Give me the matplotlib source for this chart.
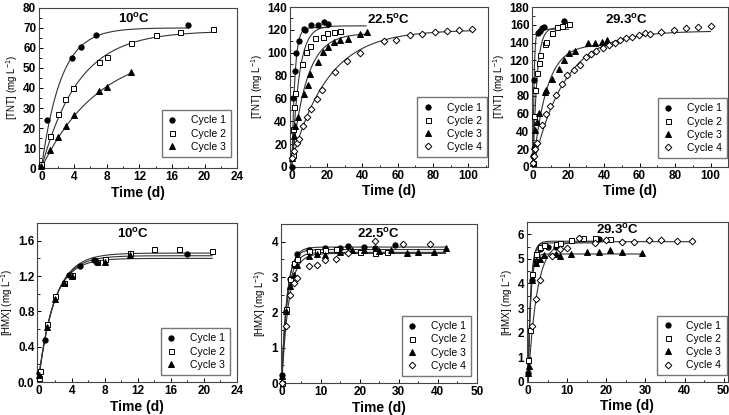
import numpy as np
import matplotlib.pyplot as plt
from matplotlib.ticker import MultipleLocator, FormatStrFormatter

plt.rcParams['font.family'] = ['Liberation Sans', 'DejaVu Sans']
plt.rcParams['mathtext.default'] = 'regular'

# ---- TNT, 10 C ----
tnt10_t = [[0, 0.7, 3.7, 4.9, 6.7, 17.9],
           [0, 1, 2, 2.9, 3.9, 7, 8, 11, 14, 17, 21],
           [0, 1, 2, 3, 4, 7, 8, 11]]
tnt10_c = [[1, 24, 55, 60.5, 66.5, 71.5],
           [2, 16, 27, 34.5, 40, 53, 55.5, 62.5, 66.5, 68, 69.5],
           [1, 9, 15.5, 21, 26.5, 38.5, 40.5, 48]]
# fitted curves: plateau, rate (1/d), start value, last day
tnt10_fit = [[70, 0.42, 0, 18], [68.5, 0.22, 0, 21], [60, 0.142, 0, 11]]

# ---- TNT, 22.5 C ----
tnt22_t = [[0, 0.4, 0.8, 1.9, 2.6, 4, 6.6, 7.5, 11, 15, 18, 20.6],
           [0.4, 0.8, 1.3, 2, 5.5, 8, 10, 13, 17.4, 20, 24, 27.4],
           [0, 1, 1.7, 3.6, 7, 8.9, 10.5, 15, 17.5, 20.6, 24, 27, 32, 38.5, 42.8],
           [0, 1, 3, 4, 6.4, 8.5, 10.8, 14, 17, 24.3, 31, 38.5, 52, 59, 67, 74, 81, 88, 95, 102]]
tnt22_c = [[0, 9, 60, 84, 100, 110, 121, 120, 124, 124, 127, 125.5],
           [10, 33, 52, 65, 90, 101, 106, 113, 114, 117, 118, 119],
           [8, 27, 36, 44, 64, 72, 81, 92, 101, 105, 109, 111, 112, 116, 118],
           [8, 14, 21, 24, 36, 44, 51, 59.5, 67, 83, 92.4, 100, 110, 111, 115.5, 116.6, 117.8, 118.7, 120, 121]]
tnt22_fit = [[122, 0.6, 0, 21], [123.5, 0.25, 0, 42], [117, 0.12, 5, 42], [120, 0.049, 5, 102]]

# ---- TNT, 29.3 C ----
tnt29_t = [[0, 0.6, 2.8, 3.75, 5, 6.2, 17.4],
           [0, 0.6, 1.1, 2.25, 3.4, 3.75, 6.6, 7.5, 10.9, 13.5, 16.3, 20],
           [0, 0.6, 1.3, 2.25, 3.4, 6.6, 7.5, 10.7, 14.4, 17.3, 20.3, 23.5, 31, 34.7, 38.8, 41.6],
           [0, 0.6, 1.3, 2.4, 5.25, 7.5, 9.4, 12.8, 16.3, 19.3, 23, 26.3, 29.6, 32.8, 35.6, 39.4,
            42.8, 46, 49, 52.5, 55.9, 59.5, 62.8, 65.7, 72.2, 79.4, 86.3, 93.2, 100]]
tnt29_c = [[12, 97.5, 150.7, 152.6, 156, 157.5, 164],
           [4, 57, 87, 106, 117, 126, 138, 141, 150.7, 158, 159, 161],
           [4.5, 23, 41, 51, 61, 84, 86, 99, 110, 120, 128, 131, 139.5, 139.5, 141, 142.5],
           [4.5, 12, 20, 27, 47.6, 60, 68, 81, 93, 103, 109.5, 115, 124, 127.5, 131, 134,
            137.6, 140, 142.5, 145, 146, 149, 150.7, 150, 151.5, 153.7, 156.4, 157, 159]]
tnt29_fit = [[155, 1.65, 0, 20], [157, 0.45, 0, 20], [138, 0.13, 0, 42], [153, 0.056, 0, 100]]

# ---- HMX, 10 C ----
hmx10_t = [[0, 0.7, 3.7, 5, 6.7, 18],
           [0, 0.2, 1, 2, 3, 4, 7, 8, 11, 14, 17, 21],
           [0, 1, 2, 3, 4, 7, 8, 11]]
hmx10_c = [[0.1, 0.48, 1.21, 1.31, 1.38, 1.45],
           [0.04, 0.12, 0.66, 0.97, 1.12, 1.21, 1.36, 1.39, 1.46, 1.51, 1.51, 1.48],
           [0.08, 0.62, 0.94, 1.12, 1.2, 1.37, 1.36, 1.44]]
hmx10_fit = [[1.43, 0.52, 0.05, 21], [1.46, 0.5, 0.05, 21], [1.40, 0.54, 0.05, 21]]

# ---- HMX, 22.5 C ----
hmx22_t = [[0, 1, 2, 3, 4, 7, 11, 15, 17, 21, 24, 29],
           [0, 1, 2, 3, 4, 7, 9, 11, 14, 20, 24, 27],
           [0, 1, 2, 3, 4, 7, 9, 11, 15, 18, 21, 25, 28, 32, 35, 39, 42],
           [0, 1, 2, 3, 4, 7, 9, 11, 14, 17, 24, 31, 38]]
hmx22_c = [[0.22, 2.05, 2.95, 3.35, 3.65, 3.78, 3.83, 3.82, 3.88, 3.85, 3.82, 3.9],
           [0, 2.1, 2.95, 3.4, 3.5, 3.75, 3.75, 3.78, 3.8, 3.7, 3.68, 3.72],
           [0.2, 2.03, 2.75, 3.05, 3.35, 3.6, 3.65, 3.62, 3.72, 3.78, 3.78, 3.75, 3.78, 3.68, 3.72, 3.72, 3.82],
           [0, 1.62, 2.5, 2.83, 2.98, 3.3, 3.35, 3.47, 3.5, 3.68, 4.02, 3.93, 3.95]]
hmx22_fit = [[3.85, 0.7, 0.2, 42], [3.78, 0.75, 0.1, 42], [3.70, 0.65, 0.2, 42], [3.67, 0.55, 0, 42]]

# ---- HMX, 29.3 C ----
hmx29_t = [[0, 1, 2, 3, 5, 7, 18],
           [0, 0.5, 1, 2, 3, 4, 7, 8, 11, 14, 17, 21],
           [0, 0.2, 1, 2, 3, 4, 7, 8, 11, 15, 18, 21, 24, 29],
           [1, 2, 3, 6, 8, 10, 13, 17, 20, 24, 27, 31, 34, 38, 42]]
hmx29_c = [[0.35, 4.15, 4.9, 5.4, 5.48, 5.47, 5.82],
           [0.9, 2.1, 4.4, 5.2, 5.5, 5.55, 5.6, 5.65, 5.75, 5.85, 5.85, 5.82],
           [0.35, 0.65, 4.15, 4.85, 5.0, 5.15, 5.2, 5.1, 5.2, 5.28, 5.3, 5.38, 5.28, 5.25],
           [2.25, 3.38, 4.15, 5.1, 5.4, 5.45, 5.85, 5.65, 5.78, 5.7, 5.7, 5.78, 5.78, 5.72, 5.72]]
hmx29_fit = [[5.65, 1.5, 0.35, 18], [5.72, 1.3, 0.5, 21], [5.2, 1.5, 0.35, 29], [5.7, 0.45, 0, 42]]

labels = ['Cycle 1', 'Cycle 2', 'Cycle 3', 'Cycle 4']
temps = ['10$^{o}$C', '22.5$^{o}$C', '29.3$^{o}$C']

# marker, face colour, size
styles = [('o', 'black', 3.8), ('s', 'white', 3.6), ('^', 'black', 4.2), ('D', 'white', 3.4)]

fig = plt.figure(figsize=(7.29, 4.15), dpi=100)

panels = [
    # t, c, fit, rect, xlim, xmaj, xmin, ylim, ymaj, ymin, yfmt, ylabel, title pos, legend box
    (tnt10_t, tnt10_c, tnt10_fit, [0.0535, 0.595, 0.272, 0.386], (-0.3, 24), 4, 2, (0, 80), 10, 5, '%d',
     '[TNT] (mg L$^{-1}$)', (0.48, 0.93), (0.97, 0.07)),
    (tnt22_t, tnt22_c, tnt22_fit, [0.398, 0.598, 0.271, 0.385], (-1, 111), 20, 10, (0, 140), 20, 10, '%d',
     '[TNT] (mg L$^{-1}$)', (0.5, 0.92), (0.995, 0.06)),
    (tnt29_t, tnt29_c, tnt29_fit, [0.730, 0.598, 0.269, 0.385], (-0.5, 110), 20, 10, (0, 180), 20, 10, '%d',
     '[TNT] (mg L$^{-1}$)', (0.48, 0.92), (0.995, 0.055)),
    (hmx10_t, hmx10_c, hmx10_fit, [0.051, 0.0795, 0.274, 0.383], (-0.2, 24), 4, 2, (0, 1.8), 0.4, 0.2, '%.1f',
     '[HMX] (mg L$^{-1}$)', (0.48, 0.93), (0.965, 0.045)),
    (hmx22_t, hmx22_c, hmx22_fit, [0.385, 0.077, 0.269, 0.383], (-0.3, 50), 10, 5, (0, 4.5), 1, 0.5, '%d',
     '[HMX] (mg L$^{-1}$)', (0.5, 0.94), (0.97, 0.045)),
    (hmx29_t, hmx29_c, hmx29_fit, [0.723, 0.08, 0.275, 0.385], (-0.3, 51), 10, 5, (0, 6.5), 1, 0.5, '%d',
     '[HMX] (mg L$^{-1}$)', (0.45, 0.95), (0.995, 0.04)),
]

for k, p in enumerate(panels):
    t_all, c_all, fit, rect, xlim, xmaj, xmin, ylim, ymaj, ymin, yfmt, ylab, tpos, lpos = p
    ax = fig.add_axes(rect)
    for i in range(len(t_all)):
        cmax, rate, c0, tend = fit[i]
        tt = np.linspace(0, tend, 300)
        ax.plot(tt, c0 + (cmax - c0) * (1 - np.exp(-rate * tt)), color='#333333', lw=0.8, zorder=2)
    for i in range(len(t_all)):
        m, fc, ms = styles[i]
        ax.plot(t_all[i], c_all[i], linestyle='none', marker=m, mfc=fc, mec='black', mew=0.7,
                ms=ms, label=labels[i], zorder=3, clip_on=False)
    ax.set_xlim(xlim)
    ax.set_ylim(ylim)
    ax.xaxis.set_major_locator(MultipleLocator(xmaj))
    ax.xaxis.set_minor_locator(MultipleLocator(xmin))
    ax.yaxis.set_major_locator(MultipleLocator(ymaj))
    ax.yaxis.set_minor_locator(MultipleLocator(ymin))
    ax.yaxis.set_major_formatter(FormatStrFormatter(yfmt))
    ax.tick_params(which='both', direction='in', top=False, right=False, labelsize=8.5, pad=2)
    ax.tick_params(which='major', length=3, width=0.7)
    ax.tick_params(which='minor', length=1.8, width=0.6)
    for lab in ax.get_xticklabels() + ax.get_yticklabels():
        lab.set_fontweight('bold')
    for sp in ax.spines.values():
        sp.set_linewidth(0.8)
        sp.set_color('#444444')
    ax.set_xlabel('Time (d)', fontsize=10, fontweight='bold', labelpad=2)
    ax.set_ylabel(ylab, fontsize=7, labelpad=2)
    ax.text(tpos[0], tpos[1], temps[k % 3], transform=ax.transAxes, ha='center', va='center',
            fontsize=9.5, fontweight='bold')
    ax.legend(loc='lower right', bbox_to_anchor=lpos, fontsize=7.5, frameon=True, fancybox=False,
              edgecolor='#555555', handlelength=1.0, handletextpad=1.3, borderpad=0.5,
              labelspacing=0.3, borderaxespad=0)

plt.savefig('out.png', dpi=100)
